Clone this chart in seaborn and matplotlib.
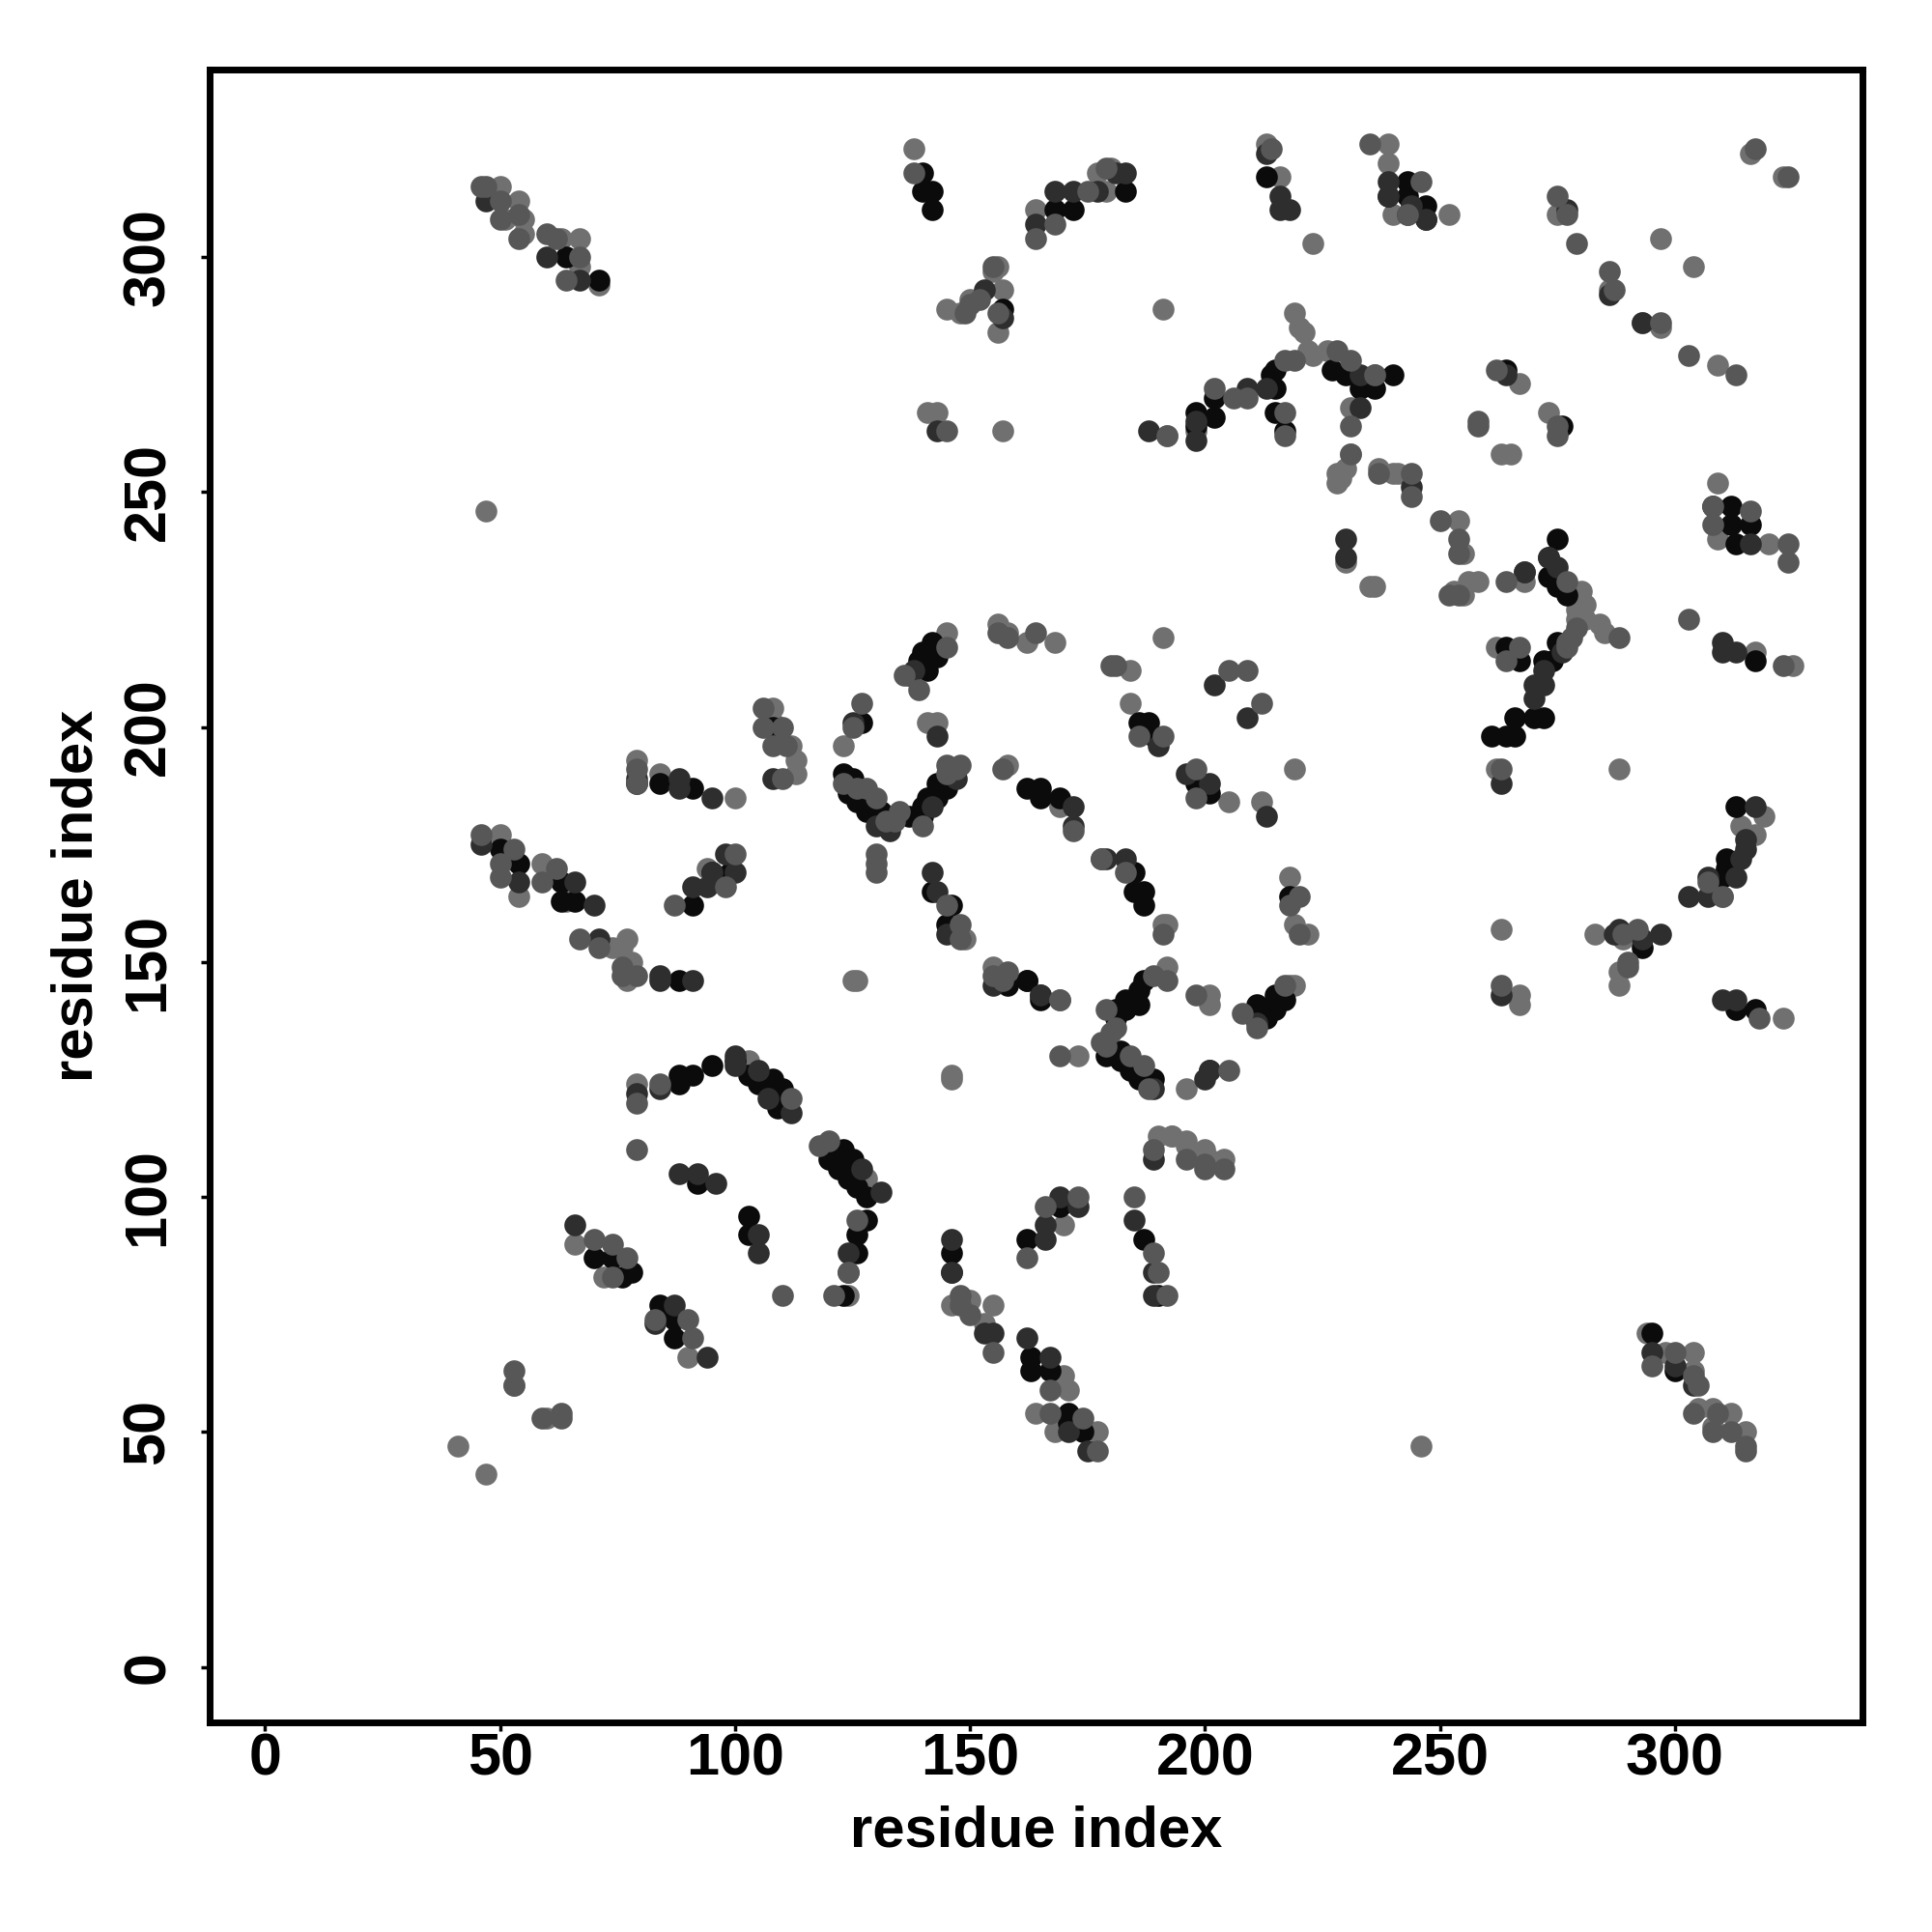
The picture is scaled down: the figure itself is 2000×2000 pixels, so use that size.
import seaborn as sns
import pandas as pd
from matplotlib import pyplot as plt

# contacts, grouped by how dark the dot is
light_pts = [
    (50,315),(54,312),(51,308),(55,308),(55,305),(63,304),(67,304),(67,298),(71,294),
    (138,323),(164,310),(177,318),(179,314),(180,319),(145,289),(148,288),(150,291),
    (155,297),(156,298),(157,293),(156,284),(47,246),(141,267),(143,267),(157,263),
    (213,324),(216,317),(223,303),(239,324),(239,320),(240,309),(252,309),(297,304),
    (304,298),(286,293),(293,286),(297,285),(309,277),(323,317),(316,322),(275,309),
    (219,288),(221,284),(220,285),(222,280),(226,280),(223,279),(191,289),(198,263),
    (192,262),(231,268),(267,273),(273,267),(263,258),(265,258),(231,258),(228,252),
    (229,253),(230,255),(228,254),(237,255),(240,254),(241,254),(309,252),(309,240),
    (320,239),(230,235),(236,230),(235,230),(254,244),(255,237),(253,229),(256,231),
    (258,231),(255,228),(268,231),(280,229),(281,226),(279,225),(279,223),(281,223),
    (284,222),(285,220),(191,219),(262,217),(317,216),(325,213),(184,212),
    (145,220),(156,222),(158,220),(162,218),(168,218),(123,196),(141,201),(143,201),
    (108,204),(108,201),(112,196),(113,193),(113,190),(79,193),(84,190),(100,185),
    (158,192),(169,183),(50,177),(54,164),(59,171),(64,163),(94,170),(74,153),(77,155),
    (76,153),(78,150),(77,146),(125,146),(126,146),(155,149),(149,155),
    (79,124),(103,129),(128,104),(124,79),(66,90),(72,83),(90,66),(41,47),(47,41),
    (53,60),(60,53),(146,125),(146,126),(146,77),(150,78),(155,77),(153,73),(170,62),
    (171,59),(164,54),(168,50),(177,50),(170,94),(190,113),(193,113),(196,111),(200,110),
    (184,205),(219,191),(205,184),(212,184),(218,168),(191,158),(192,158),(219,158),
    (222,156),(192,149),(201,143),(201,141),(173,130),(196,123),(218,145),(219,145),
    (288,191),(262,191),(283,156),(289,155),(288,148),(288,145),(267,143),(267,141),
    (323,138),(319,181),(314,179),(317,177),(310,164),(263,157),(196,112),(193,113),(204,108),(201,108),
    (315,50),(312,54),(308,51),(308,55),(305,55),(304,63),(304,67),(298,67),(294,71),(246,47),
]
mid_pts = [
    (46,315),(47,315),(50,312),(50,308),(54,309),(54,304),(60,305),(62,304),(67,300),(64,295),
    (138,318),(168,307),(164,304),(175,314),(179,319),(155,298),(150,290),(149,288),(152,291),
    (156,288),(145,263),(214,323),(235,324),(246,316),(243,309),(275,313),(277,309),(279,303),
    (286,297),(297,286),(303,279),(313,275),(317,323),(324,317),(219,278),(217,278),(228,280),
    (231,278),(236,275),(209,270),(206,270),(202,272),(217,267),(217,262),(231,264),(258,265),
    (258,264),(262,276),(264,231),(275,262),(275,264),(192,262),(231,258),(237,254),(244,254),
    (244,249),(308,247),(316,246),(308,243),(324,239),(324,235),(250,244),(254,240),(254,237),
    (252,228),(254,228),(277,231),(279,221),(277,218),(288,219),(303,223),(264,214),(267,217),
    (277,217),(278,219),(323,213),(205,212),(180,213),
    (145,217),(136,211),(139,208),(156,220),(158,219),(164,220),(127,205),(125,200),(106,204),
    (106,200),(110,200),(108,196),(111,196),(110,189),(79,191),(79,188),(123,188),(126,187),
    (128,187),(130,185),(132,180),(135,182),(134,180),(140,179),(145,192),(145,190),(147,191),
    (148,192),(157,191),(172,178),(130,173),(130,171),(130,169),(145,162),(148,158),(148,155),
    (46,177),(53,174),(50,171),(50,168),(62,170),(59,167),(87,162),(98,166),(100,173),(67,155),
    (71,153),(76,149),(76,147),(79,147),(155,147),(158,148),(157,146),(169,142),
    (84,124),(79,120),(112,121),(118,111),(120,112),(79,110),(126,95),(124,84),(121,79),(110,79),
    (70,91),(74,90),(77,87),(74,83),(83,74),(90,74),(91,70),(53,63),(53,60),(59,53),(63,54),(63,53),
    (148,79),(148,77),(150,75),(155,67),(167,59),(167,54),(174,53),(177,46),(162,87),(166,98),
    (173,100),(185,100),(189,88),(190,84),(192,79),(189,110),(196,108),(200,107),(200,106),(204,106),
    (181,213),(186,198),(191,198),(209,212),(212,205),(198,191),(198,185),(183,169),(178,172),
    (220,164),(218,162),(220,156),(191,156),(189,147),(192,146),(198,143),(169,142),(179,140),
    (181,136),(180,135),(178,133),(179,132),(184,130),(187,128),(188,123),(169,130),(205,127),
    (208,139),(217,145),(211,136),(263,145),(263,191),(292,157),(289,156),(290,150),(290,149),
    (307,167),(318,138),(310,164),(287,293),
    (315,46),(315,47),(312,50),(308,50),(309,54),(304,54),(305,60),(304,62),(300,67),(295,64),
]
dark_pts = [
    (47,312),(60,300),(67,295),(164,307),(168,314),(172,314),(177,314),(181,318),(183,318),
    (153,293),(157,287),(143,263),(213,322),(216,313),(216,310),(218,310),(239,316),(239,313),
    (244,311),(243,309),(247,308),(286,292),(277,310),(293,286),(233,275),(236,275),(213,272),
    (209,272),(198,265),(198,261),(188,263),(233,268),(264,275),(268,233),(230,240),(230,236),
    (244,251),(316,239),(273,236),(275,234),(276,216),(272,212),(310,218),(310,216),(313,216),
    (268,233),(138,212),(137,211),(125,201),(143,198),(79,189),(88,189),(88,187),(95,185),(108,189),
    (147,189),(142,183),(130,179),(133,178),(172,183),(172,179),(178,172),(142,169),(143,165),
    (145,156),(46,175),(54,167),(66,167),(70,162),(91,166),(94,166),(95,169),(100,169),(98,173),
    (71,155),(84,147),(84,146),(91,146),(165,143),(155,145),
    (79,122),(84,123),(100,130),(100,128),(105,127),(107,121),(112,118),(127,106),(131,101),
    (88,105),(92,105),(96,103),(105,92),(105,88),(124,88),(124,84),(66,94),(83,73),(87,77),(94,66),
    (146,91),(146,84),(153,71),(155,71),(162,70),(167,66),(171,50),(175,46),(166,94),(169,100),
    (173,98),(166,91),(185,95),(189,84),(189,79),(189,108),(201,127),(200,125),(202,209),(209,202),
    (190,196),(196,190),(201,188),(183,172),(179,172),(189,123),(211,137),(263,188),(213,181),
    (287,156),(288,157),(297,156),(293,155),(263,143),(310,142),(313,142),(307,168),(303,164),
    (307,164),(313,168),(314,172),(315,176),(315,174),(317,183),(270,209),(272,209),(270,206),
    (295,67),(300,64),(304,60),
]
black_pts = [
    (64,300),(71,295),(140,318),(140,314),(142,314),(142,310),(168,310),(172,310),(183,314),(157,289),
    (213,317),(243,316),(243,313),(247,311),(247,308),(239,313),(227,276),(230,275),(233,272),
    (236,272),(240,275),(215,276),(214,275),(215,272),(202,270),(202,266),(198,267),(198,264),
    (215,267),(217,263),(264,276),(276,264),(308,247),(312,247),(312,243),(316,243),(313,239),
    (275,240),(273,236),(273,232),(275,230),(277,228),(275,218),(272,214),(274,214),
    (264,217),(267,214),(317,214),(142,218),(143,215),(140,216),(141,214),(139,214),(141,212),
    (127,201),(108,200),(79,188),(84,188),(91,187),(123,190),(125,189),(124,186),(126,184),(128,182),
    (131,182),(137,181),(140,183),(140,181),(141,185),(143,185),(143,188),(145,187),(162,187),(165,187),
    (165,185),(169,185),(142,165),(146,162),(145,158),(50,174),(54,171),(63,167),(63,163),(66,163),
    (91,162),(95,169),(99,169),(88,146),(158,145),(162,146),(165,142),
    (88,126),(88,124),(91,126),(95,128),(100,129),(103,126),(108,125),(105,124),(110,123),(109,119),
    (123,110),(120,108),(125,108),(122,106),(124,104),(126,102),(128,100),(92,103),
    (103,96),(103,92),(128,95),(126,92),(126,88),(123,79),(70,87),(74,87),(78,84),(76,83),
    (84,77),(84,75),(87,74),(87,70),(146,88),(146,84),(163,66),(163,63),(167,63),(171,54),(171,52),(174,50),
    (162,91),(169,98),(187,91),(190,79),(186,201),(188,201),(189,198),(198,188),(201,186),(185,169),
    (185,165),(187,165),(187,162),(218,164),(162,146),(165,143),(187,146),(186,144),(183,142),(186,141),
    (181,140),(183,140),(181,138),(179,130),(182,131),(182,129),(184,127),(186,125),(189,125),(201,127),
    (211,141),(215,143),(217,142),(215,140),(211,139),(213,138),(264,198),(261,198),(266,198),(266,202),
    (270,202),(272,202),(293,153),(313,183),(311,172),(310,168),(311,170),(313,140),(317,140),
    (295,71),(300,63),
]

# drawing order and shade of each group
shades = ['#707070', '#0b0b0b', '#2e2e2e', '#575757']
groups = [light_pts, black_pts, dark_pts, mid_pts]

tick_vals = [0, 50, 100, 150, 200, 250, 300]

plt.rcParams['font.family'] = ['Liberation Sans', 'DejaVu Sans']
plt.rcParams['font.weight'] = 'bold'

fig, ax = plt.subplots(figsize=(20, 20), dpi=100)
fig.subplots_adjust(left=217/2000, right=1928/2000, top=1-72/2000, bottom=1-1783/2000)

for pts, shade in zip(groups, shades):
    df = pd.DataFrame(pts, columns=['x', 'y'])
    sns.scatterplot(data=df, x='x', y='y', color=shade, s=265, linewidth=0, ax=ax, zorder=3)

ax.set_xlim(-11.8, 339.9)
ax.set_ylim(-11.8, 339.9)
ax.set_xticks(tick_vals)
ax.set_yticks(tick_vals)
ax.tick_params(length=6.5, width=2.5, labelsize=44, color='black')
ax.tick_params(axis='x', pad=1)
ax.tick_params(axis='y', pad=18)
plt.setp(ax.get_yticklabels(), rotation=90, va='center')
for s in ax.spines.values():
    s.set_linewidth(5)

ax.set_xlabel('residue index', fontsize=43, fontweight='bold', labelpad=13)
ax.set_ylabel('residue index', fontsize=43, fontweight='bold', labelpad=13)

plt.savefig('out.png', dpi=100)
